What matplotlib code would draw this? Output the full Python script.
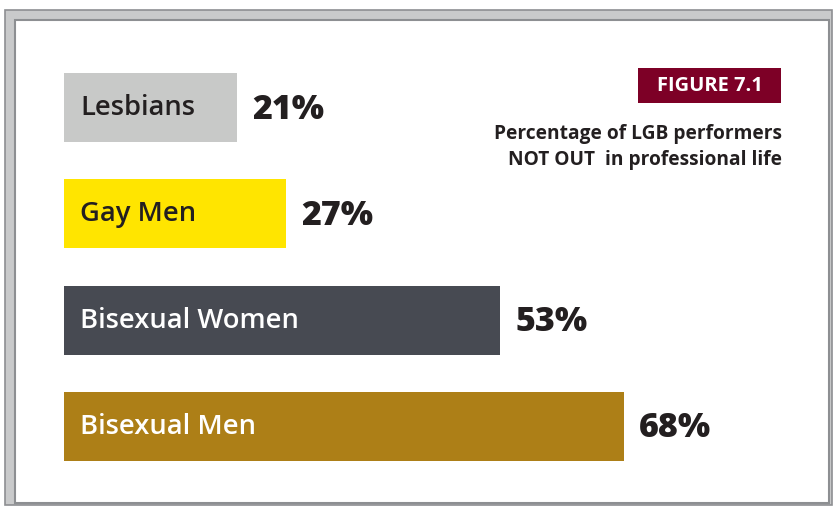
import matplotlib
matplotlib.use("Agg")
import matplotlib.pyplot as plt
from matplotlib.patches import Rectangle

W, H = 833, 507

groups = ["Lesbians", "Gay Men", "Bisexual Women", "Bisexual Men"]
values = [21, 27, 53, 68]
bar_colours = ["#c8c9c8", "#ffe500", "#474a52", "#ad7f17"]
label_colours = ["#231f20", "#231f20", "white", "white"]

plt.rcParams["font.family"] = ["Open Sans", "DejaVu Sans"]

fig = plt.figure(figsize=(W / 100, H / 100), dpi=100)
fig.patch.set_facecolor("white")


def px(x, y, w, h):
    # pixel box (from top-left) -> figure fraction rect
    return [x / W, 1 - (y + h) / H, w / W, h / H]


# frame, kept behind the axes
fig.patches.append(Rectangle((5 / W, 1 - 505 / H), 827 / W, 495 / H,
                             transform=fig.transFigure, facecolor="#c9cacb",
                             edgecolor="#8d8f92", linewidth=1.2, zorder=-10))
fig.patches.append(Rectangle((15 / W, 1 - 503 / H), 814 / W, 483 / H,
                             transform=fig.transFigure, facecolor="white",
                             edgecolor="#8d8f92", linewidth=1.5, zorder=-9))

spacing = 106.3
ax = fig.add_axes(px(64, 107.5 - spacing / 2, 560, spacing * 4))
ax.set_xlim(0, 68)
ax.set_ylim(3.5, -0.5)
ax.axis("off")
ax.patch.set_alpha(0)

ypos = list(range(len(groups)))
ax.barh(ypos, values, height=0.65, color=bar_colours, edgecolor="none")

for y, name, val, tc in zip(ypos, groups, values, label_colours):
    ax.annotate(name, (0, y), xytext=(11.5, -0.5), textcoords="offset points",
                ha="left", va="center", fontsize=19.7, fontweight="semibold",
                color=tc)
    ax.annotate(f"{val}%", (val, y), xytext=(11, -1.5), textcoords="offset points",
                ha="left", va="center", fontsize=24.5, fontweight="heavy",
                color="#231f20", annotation_clip=False)

# figure tag
fig.patches.append(Rectangle((638 / W, 1 - 103 / H), 143 / W, 35 / H,
                             transform=fig.transFigure, facecolor="#7d0026",
                             edgecolor="none"))
fig.text(709.5 / W, 1 - 86 / H, "FIGURE 7.1", ha="center", va="center",
         color="white", fontsize=14.5, fontweight="bold")
fig.text(782 / W, 1 - 134 / H, "Percentage of LGB performers",
         ha="right", va="center", fontsize=13.8, fontweight="bold",
         color="#231f20")
fig.text(782 / W, 1 - 160 / H, "NOT OUT  in professional life",
         ha="right", va="center", fontsize=13.8, fontweight="bold",
         color="#231f20")

fig.savefig("out.png", dpi=100)
